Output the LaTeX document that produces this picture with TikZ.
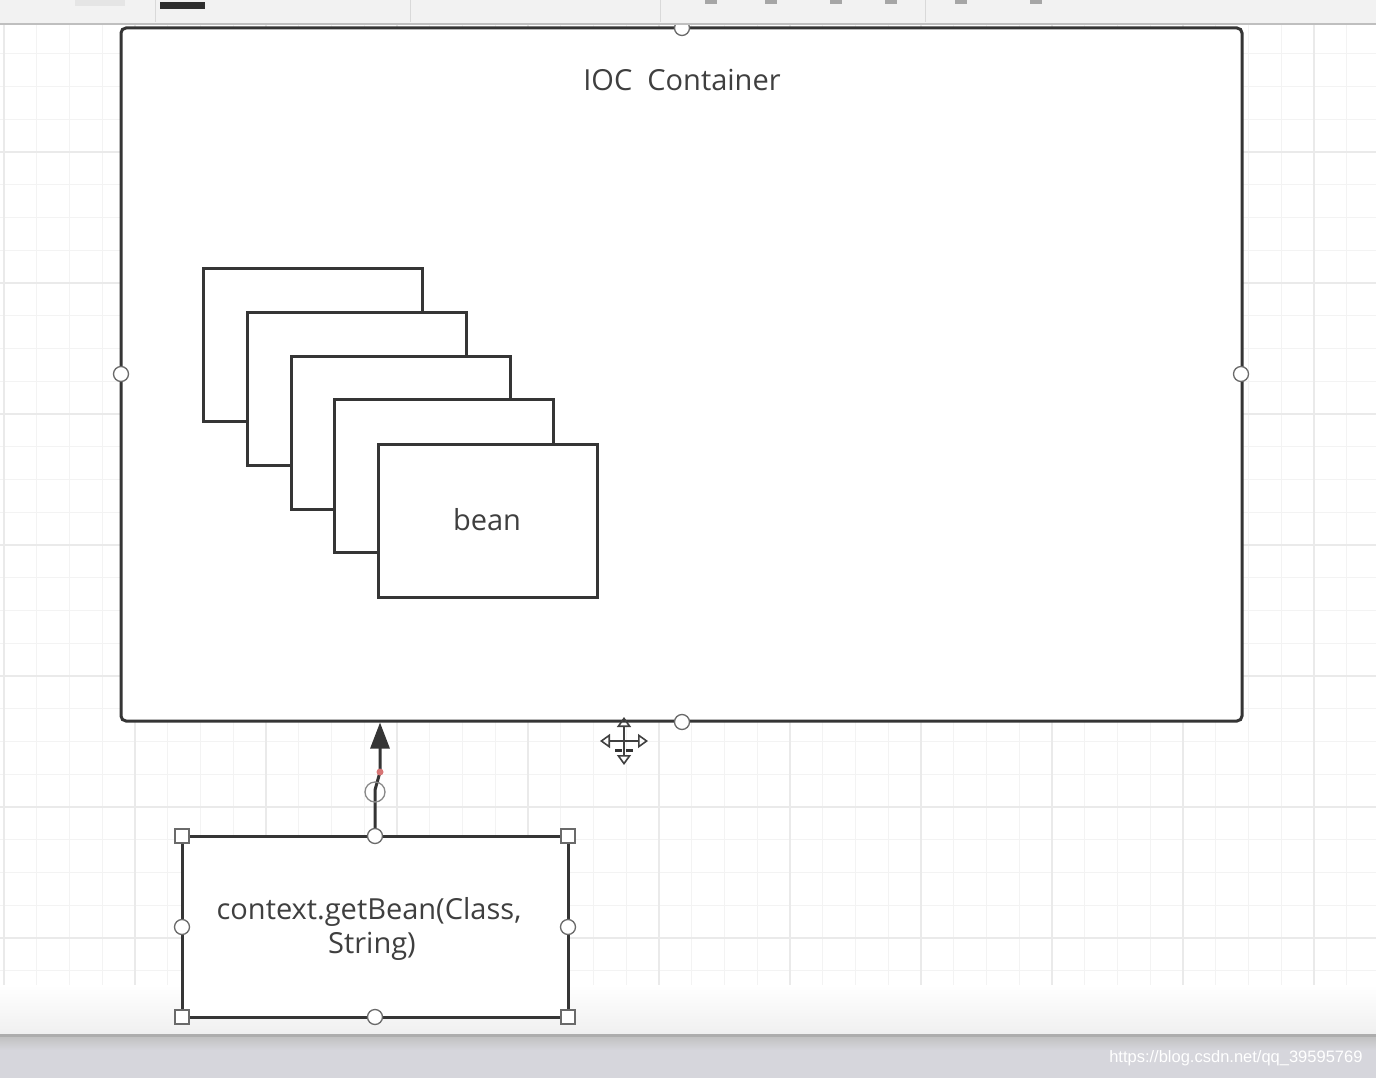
\documentclass[tikz,border=0pt]{standalone}
\usepackage{fontspec}
\setmainfont{Open Sans}
\newfontfamily\wmfont{Liberation Sans}
\usetikzlibrary{arrows.meta}
\definecolor{ink}{HTML}{353535}
\definecolor{gridminor}{HTML}{F3F3F3}
\definecolor{gridmajor}{HTML}{EAEAEA}
\definecolor{handle}{HTML}{6A6A6A}
\definecolor{statusbar}{HTML}{D6D6DC}
\tikzset{
  shape box/.style={draw=ink, line width=3pt, fill=white, rectangle, inner sep=0pt},
  beanbox/.style={shape box, minimum width=219pt, minimum height=153pt},
  handlec/.style={draw=handle, line width=1.3pt, fill=white, circle, minimum size=15pt, inner sep=0pt},
  handles/.style={draw=handle, line width=1.3pt, fill=white, rectangle, minimum size=14pt, inner sep=0pt},
  lbl/.style={text=ink!95, font=\fontsize{29}{34}\selectfont, align=center},
}
\begin{document}
\begin{tikzpicture}[x=1pt,y=-1pt]
\useasboundingbox (0,0) rectangle (1376,1078);
\fill[white] (0,0) rectangle (1376,1078);
% grid
\foreach \i in {-1,...,42} {
  \draw[gridminor, line width=1pt] ({4+32.75*\i},24) -- ({4+32.75*\i},990);
}
\foreach \i in {0,...,30} {
  \draw[gridminor, line width=1pt] (0,{21+32.75*\i}) -- (1376,{21+32.75*\i});
}
\foreach \i in {0,...,10} {
  \draw[gridmajor, line width=1.2pt] ({4+131*\i},24) -- ({4+131*\i},990);
}
\foreach \i in {0,...,7} {
  \draw[gridmajor, line width=1.2pt] (0,{21+131*\i}) -- (1376,{21+131*\i});
}
% bottom canvas fade and status bar
\shade[top color=white, bottom color=black!6] (0,985) rectangle (1376,1034);
\fill[black!32] (0,1034) rectangle (1376,1037);
\shade[top color=black!24, bottom color=statusbar] (0,1037) rectangle (1376,1050);
\fill[statusbar] (0,1050) rectangle (1376,1078);
\node[anchor=east, text=white, font=\fontsize{16.5}{19}\wmfont] (wm) at (1366,1058) {https://blog.csdn.net/qq\_39595769};

% container
\node[shape box, rounded corners=5pt, minimum width=1121pt, minimum height=693pt] (ioc) at (681.5,374.5) {};
\node[lbl] (title) at (682,80) {IOC~~Container};

% beans
\node[beanbox] (b1) at (312.5,345) {};
\node[beanbox] (b2) at (356.5,389) {};
\node[beanbox] (b3) at (400.5,432.5) {};
\node[beanbox] (b4) at (443.5,476) {};
\node[beanbox] (b5) at (487.5,520.5) {};
\node[lbl] (beantxt) at (487,520) {bean};

% getBean box
\node[shape box, minimum width=386pt, minimum height=181pt] (call) at (375,926.5) {};
\node[lbl] (calltxt) at (369,929) {context.getBean(Class,\\\hspace*{6pt}String)};

% connector
\coordinate (j1) at (375,790);
\coordinate (j2) at (380,772);
\draw[ink, line width=3pt, -{Triangle[width=19pt,length=26pt]}] (call.north) -- (j1) -- (j2) -- (j2 |- ioc.south);
\fill[red!55!gray!70] (380,772) circle (3.5pt);
\node[draw=handle!80, line width=1.3pt, circle, minimum size=20pt, inner sep=0pt] (jh) at (375,792) {};

% container handles
\node[handlec] (ht) at (682,28) {};
\node[handlec] (hl) at (121,374) {};
\node[handlec] (hr) at (1241,374) {};
\node[handlec] (hb) at (682,722) {};

% call box handles
\node[handlec] (ct) at (375,836) {};
\node[handlec] (cb) at (375,1017) {};
\node[handlec] (cl) at (182,927) {};
\node[handlec] (cr) at (568,927) {};
\node[handles] (c1) at (182,836) {};
\node[handles] (c2) at (568,836) {};
\node[handles] (c3) at (182,1017) {};
\node[handles] (c4) at (568,1017) {};

% move cursor
\coordinate (mv) at (624,741);
\foreach \dx/\dy in {0/-1,0/1,-1/0,1/0} {
  \draw[black!75, line width=1.6pt, -{Triangle[open, width=14pt, length=10pt]}] (mv) -- ++({24*\dx},{24*\dy});
}
\draw[black!80, line width=3pt] (615,750) -- (622,750) (626,750) -- (633,750);

% toolbar
\fill[black!5] (0,0) rectangle (1376,23);
\fill[black!25] (0,23) rectangle (1376,25);
\fill[black!82] (160,2) rectangle (205,9);
\fill[black!10] (75,0) rectangle (125,6);
\foreach \x in {705,765,830,885,955,1030} { \fill[black!35] (\x,0) rectangle ({\x+12},4); }
\draw[black!15, line width=1pt] (155,0) -- (155,22) (410,0) -- (410,22) (660,0) -- (660,22) (925,0) -- (925,22);
\end{tikzpicture}
\end{document}
